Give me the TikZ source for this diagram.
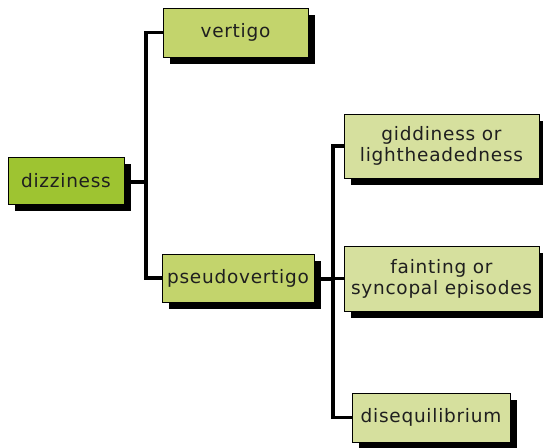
\documentclass[tikz,border=0pt]{standalone}
\usepackage{fontspec}
\setmainfont{DejaVu Sans}[LetterSpace=4]
\usetikzlibrary{shadows}
\definecolor{cdark}{HTML}{9EC431}
\definecolor{cmid}{HTML}{C3D46C}
\definecolor{clight}{HTML}{D6E09E}
\tikzset{
  box/.style={draw=black, line width=0.8pt, minimum width=#1, inner sep=0pt, align=center,
    font=\fontsize{18.5}{21}\selectfont, text=black!88,
    drop shadow={shadow xshift=7pt, shadow yshift=-7pt, fill=black, opacity=1}},
  conn/.style={line width=3.5pt, black}
}
\begin{document}
\begin{tikzpicture}[x=1pt,y=-1pt]
\useasboundingbox (0,0) rectangle (543,447);
\node[box=116pt, minimum height=47pt, fill=cdark] (diz) at (66,180.5) {dizziness};
\node[box=145pt, minimum height=49pt, fill=cmid] (ver) at (235.5,32.5) {vertigo};
\node[box=152pt, minimum height=48pt, fill=cmid] (pse) at (238,278) {pseudovertigo};
\node[box=195pt, minimum height=64pt, fill=clight] (gid) at (441.5,146) {giddiness or\\lightheadedness};
\node[box=195pt, minimum height=65pt, fill=clight] (fai) at (441.5,278.5) {fainting or\\syncopal episodes};
\node[box=158pt, minimum height=49pt, fill=clight] (dis) at (431,417.5) {disequilibrium};
\coordinate (j1) at (146,182);
\coordinate (j2) at (333,279);
\draw[conn] (diz.east |- j1) -- (j1);
\draw[conn] (ver.west) -| (j1);
\draw[conn] (pse.west) -| (j1);
\draw[conn] (pse.east |- j2) -- (j2);
\draw[conn] (gid.west) -| (j2);
\draw[conn] (fai.west) -| (j2);
\draw[conn] (dis.west) -| (j2);
\end{tikzpicture}
\end{document}
